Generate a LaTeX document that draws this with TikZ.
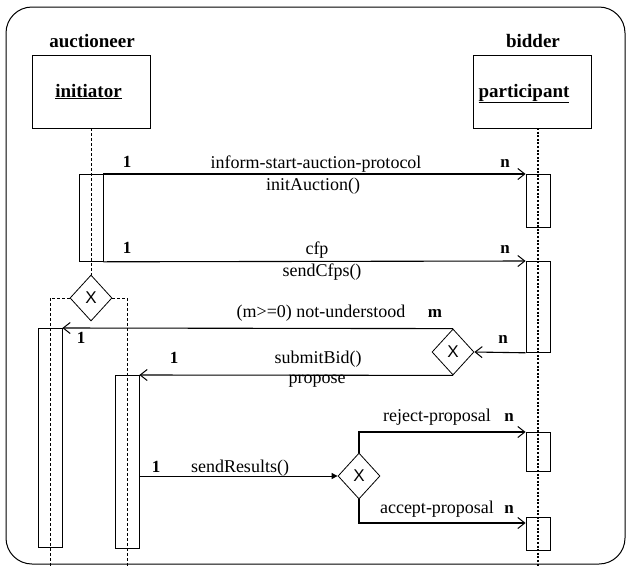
\documentclass[tikz,border=0pt]{standalone}
\usepackage{fontspec}
\setmainfont{Liberation Serif}
\newfontfamily\xfont{Liberation Sans}
\usetikzlibrary{shapes.geometric,arrows.meta,calc}

\tikzset{
  headbox/.style={draw, line width=0.8pt, minimum width=118pt, minimum height=73pt, inner sep=0pt},
  act/.style={draw, line width=0.8pt, minimum width=24pt, inner sep=0pt, anchor=north},
  choice/.style={draw, diamond, line width=0.8pt, minimum width=42pt, minimum height=46pt,
    inner sep=0pt, font=\xfont\fontsize{17}{17}\selectfont},
  msg/.style={line width=1.1pt, -{Straight Barb[length=7pt,width=11pt,line width=1pt]}},
  small/.style={line width=1pt, -{Triangle[length=6pt,width=6pt]}},
  life/.style={line width=0.7pt, dash pattern=on 3pt off 2pt},
  dotlife/.style={line width=1.3pt, dash pattern=on 2pt off 1.6pt},
  lbl/.style={anchor=base, inner sep=0pt, font=\fontsize{18}{20}\selectfont},
  card/.style={anchor=base, inner sep=0pt, font=\bfseries\fontsize{17}{20}\selectfont},
  role/.style={anchor=base, inner sep=0pt, font=\bfseries\fontsize{19}{22}\selectfont},
}

\begin{document}
\begin{tikzpicture}[x=1pt, y=-1pt]
\useasboundingbox (0,0) rectangle (630,566);

% frame of the protocol
\draw[line width=1pt, rounded corners=26pt] (6,7) rectangle (625,564);

% roles and agent heads
\node[role] (auct) at (92,47) {auctioneer};
\node[role] (bidd) at (533,47) {bidder};
\node[headbox] (init) at (91,91.5) {};
\node[headbox] (part) at (532,91.5) {};
\node[role] (initl) at (88.5,97) {\underline{initiator}};
\node[role] (partl) at (524,97) {\underline{participant}};

% activation bars
\node[act, minimum height=87pt] (a1) at (91,174) {};
\node[act, minimum height=53pt] (p1) at (538,174) {};
\node[act, minimum height=91pt] (p2) at (538,261) {};
\node[act, minimum height=219pt] (l1) at (50,328) {};
\node[act, minimum height=173pt] (m1) at (127,375) {};
\node[act, minimum height=39pt] (p3) at (538,432) {};
\node[act, minimum height=33pt] (p4) at (538,517) {};

% choice points
\node[choice] (d1) at (91,298) {X};
\node[choice] (d2) at (453,352) {X};
\node[choice] (d3) at (359,476) {X};

% lifelines
\coordinate (lend1) at (50,566);
\coordinate (lend2) at (127,566);
\coordinate (pend) at (538,566);
\coordinate (ptop) at (538,128);
\draw[life] (init.south) -- (d1.north);
\draw[life] (d1.west) -| (lend1);
\draw[life] (d1.east) -| (lend2);
\draw[dotlife] (ptop) -- (pend);

% messages
\draw[msg] (a1.north east) -- (p1.north west);
\draw[msg] (a1.south east) -- (p2.north west);
\draw[msg] (p2.south west) -- (d2.east);
\draw[msg] (d2.north) -- (l1.north east);
\draw[msg] (d2.south) -- (m1.north east);
\draw[small] (m1.east |- d3.west) -- (d3.west);
\draw[msg] (d3.north) |- (p3.north west);
\draw[msg] (d3.south) |- ([yshift=-6pt]p4.north west);

% message labels
\node[lbl] (t1) at (316,168) {inform-start-auction-protocol};
\node[lbl] (t2) at (313,190) {initAuction()};
\node[lbl] (t3) at (317,254) {cfp};
\node[lbl] (t4) at (322,276) {sendCfps()};
\node[lbl] (t5) at (321,317) {(m>=0) not-understood};
\node[lbl] (t6) at (318,363) {submitBid()};
\node[lbl] (t7) at (317,383) {propose};
\node[lbl] (t8) at (240,472) {sendResults()};
\node[lbl] (t9) at (437,421) {reject-proposal};
\node[lbl] (t10) at (437,513) {accept-proposal};

% cardinalities
\node[card] (c1) at (127,167) {1};
\node[card] (c2) at (505,167) {n};
\node[card] (c3) at (127,253) {1};
\node[card] (c4) at (505,253) {n};
\node[card] (c5) at (435,317) {m};
\node[card] (c6) at (81,343) {1};
\node[card] (c7) at (503,343) {n};
\node[card] (c8) at (174,363) {1};
\node[card] (c9) at (156,472) {1};
\node[card] (c10) at (509,421) {n};
\node[card] (c11) at (509,513) {n};
\end{tikzpicture}
\end{document}
